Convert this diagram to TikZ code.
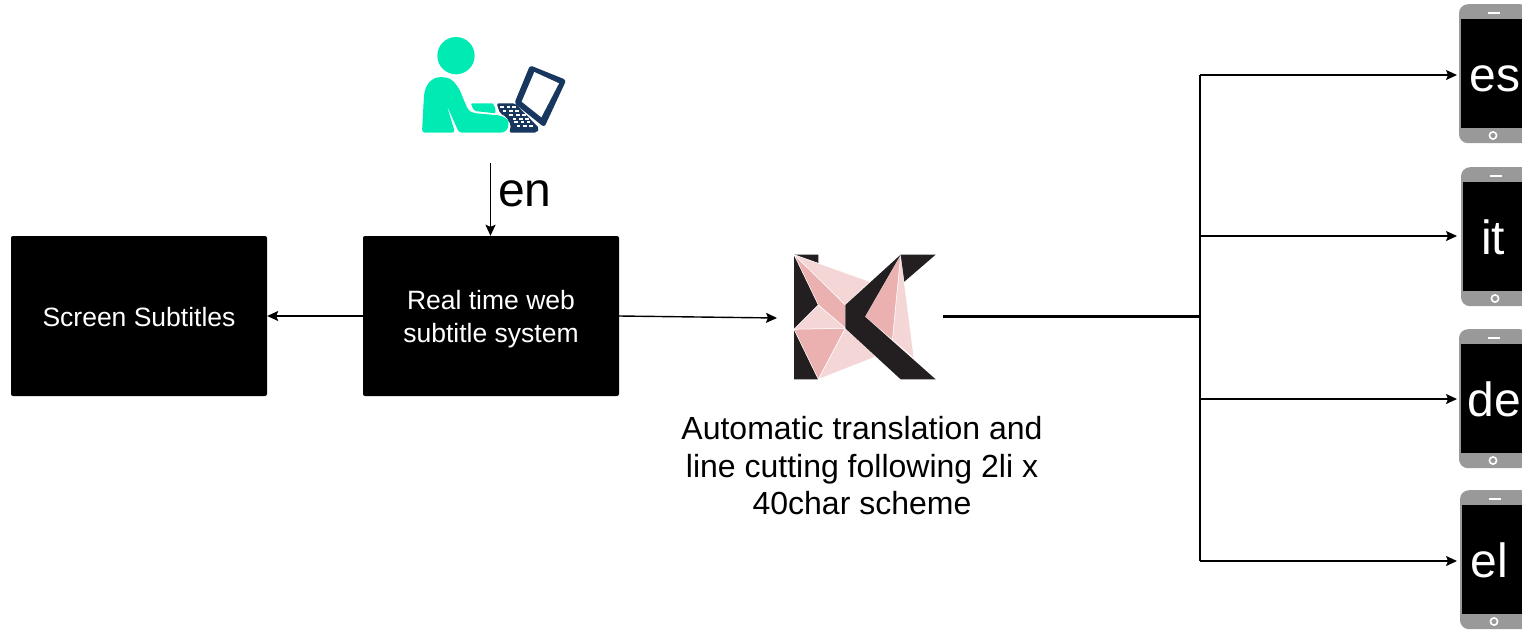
\documentclass[tikz,border=0pt]{standalone}
\usepackage{fontspec}
\setmainfont{Liberation Sans}
\usetikzlibrary{arrows.meta}
\definecolor{teal1}{HTML}{00EAB4}
\definecolor{navy1}{HTML}{17375E}
\definecolor{pinkD}{HTML}{EBB0B0}
\definecolor{pinkL}{HTML}{F5D6D6}
\definecolor{blackK}{HTML}{231F20}
\definecolor{phgray}{HTML}{999999}
\tikzset{
  bx/.style={draw=none,fill=black,rounded corners=2pt,minimum width=256pt,minimum height=160pt,inner sep=0pt},
  bxtext/.style={text=white,align=center,inner sep=0pt,font=\fontsize{26.5}{32.5}\selectfont},
  conn/.style={line width=1.4pt,-{Stealth[length=11pt,width=10pt,inset=2pt]}},
  phonebody/.style={fill=phgray,rounded corners=9pt,minimum width=70pt,minimum height=139pt,inner sep=0pt},
  phonescreen/.style={fill=black,minimum width=66pt,minimum height=109pt,inner sep=0pt},
  phonetext/.style={text=white,inner sep=0pt,anchor=base,font=\fontsize{48}{48}\selectfont},
  lg/.style={draw=white,line width=.5pt,line join=round},
  bigtext/.style={font=\fontsize{48}{48}\selectfont,inner sep=0pt},
  captext/.style={align=center,inner sep=0pt,font=\fontsize{32}{37.5}\selectfont}
}
\newcommand{\phoneat}[5]{% name, centre x, top y, label, label centre x
  \node[phonebody,anchor=north] (#1) at (#2,#3) {};
  \node[phonescreen] (#1s) at (#2,#3+69.5) {};
  \fill[white] (#2-6,#3+7.5) rectangle (#2+6,#3+9.5);
  \draw[white,line width=1.6pt] (#2-1,#3+131.5) circle (3.6pt);
  \node[phonetext] (#1t) at (#5,#3+87.5) {#4};
}
\begin{document}
\begin{tikzpicture}[x=1pt,y=-1pt]
\useasboundingbox (0,0) rectangle (1522,629);
\fill[white] (0,0) rectangle (1522,629);
% boxes
\node[bx] (screen) at (139,316) {};
\node[bxtext] (screent) at (139,317) {Screen Subtitles};
\node[bx] (web) at (491,316) {};
\node[bxtext] (webt) at (491,319) {Real time web\\subtitle system};
% person icon
\begin{scope}[shift={(400,20)},x=0.3333pt,y=-0.3333pt]
  \fill[teal1] (168,107) circle (56*0.3333pt);
  \fill[teal1,rounded corners=3pt] (66,338) -- (72,225) .. controls (80,185) and (105,170) .. (130,172) .. controls (155,174) and (170,195) .. (180,212) -- (204,270) -- (219,279) -- (285,285) .. controls (315,288) and (326,303) .. (325,315) .. controls (322,330) and (312,337) .. (298,338) -- (177,338) -- (140,255) -- (165,338) -- cycle;
  \fill[teal1,rounded corners=2pt] (212,250) -- (270,250) .. controls (280,250) and (286,260) .. (287,280) -- (222,273) -- cycle;
  \fill[navy1,rounded corners=3pt] (390,136) -- (499,180) -- (433,322) -- (343,250) -- cycle;
  \fill[white] (403,156) -- (477,190) -- (424,292) -- (365,245) -- cycle;
  \fill[navy1,rounded corners=2pt] (290,250) -- (345,250) -- (418,325) -- (410,338) -- (328,338) -- (333,315) -- (318,290) -- (300,280) -- cycle;
  \foreach \a/\b in {300/258,320/258,336/258,308/270,328/270,346/270,328/282,348/282,366/282,338/294,358/294,376/294,342/304,362/304,380/304,350/316,370/316,388/316}
    \fill[white] (\a,\b) rectangle ++(11,5);
\end{scope}
% logo
\begin{scope}[shift={(770,240)},x=0.3333pt,y=-0.3333pt]
  \fill[blackK] (72,44) -- (145,44) -- (145,70) -- cycle;
  \fill[blackK] (72,44) -- (145,195) -- (72,268) -- cycle;
  \fill[blackK] (72,268) -- (145,418) -- (72,418) -- cycle;
  \filldraw[lg,fill=pinkL] (72,44) -- (300,125) -- (226,195) -- cycle;
  \filldraw[lg,fill=pinkD] (72,44) -- (226,195) -- (226,265) -- (145,195) -- cycle;
  \filldraw[lg,fill=pinkL] (72,268) -- (145,195) -- (226,265) -- cycle;
  \filldraw[lg,fill=pinkD] (72,268) -- (226,265) -- (145,418) -- cycle;
  \filldraw[lg,fill=pinkL] (226,265) -- (318,350) -- (145,418) -- cycle;
  \filldraw[lg,fill=pinkL] (392,44) -- (432,355) -- (367,300) -- cycle;
  \filldraw[lg,fill=pinkD] (392,44) -- (285,230) -- (367,300) -- cycle;
  \fill[blackK] (392,44) -- (226,195) -- (226,265) -- (392,418) -- (497,418) -- (285,230) -- cycle;
  \fill[blackK] (392,44) -- (497,44) -- (403,125) -- cycle;
\end{scope}
\coordinate (logoW) at (777,318);
\coordinate (logoE) at (943,316.5);
\coordinate (userS) at (490.5,163);
\coordinate (bus) at (1200,316.5);
\node[bigtext,anchor=base west] (en) at (498,206) {en};
\node[captext] (caption) at (862,466) {Automatic translation and\\line cutting following 2li x\\40char scheme};
% phones
\begin{scope}
\clip (0,0) rectangle (1522,629);
\phoneat{es}{1494}{4}{es}{1495}
\phoneat{it}{1496}{167}{it}{1493}
\phoneat{de}{1494}{329}{de}{1494}
\phoneat{el}{1495}{490}{el}{1489}
\end{scope}
\coordinate (esin) at (1457,75);
\coordinate (itin) at (1457,236);
\coordinate (dein) at (1457,399);
\coordinate (elin) at (1457,561);
% connectors
\draw[conn] (userS) -- (web.north -| userS);
\draw[conn] (web.west) -- (screen.east);
\draw[conn] (web.east) -- (logoW);
\draw[line width=3pt] (logoE) -- (bus);
\draw[line width=1.6pt] (bus |- esin) -- (bus |- elin);
\draw[conn] (bus |- esin) -- (esin);
\draw[conn] (bus |- itin) -- (itin);
\draw[conn] (bus |- dein) -- (dein);
\draw[conn] (bus |- elin) -- (elin);
\end{tikzpicture}
\end{document}
